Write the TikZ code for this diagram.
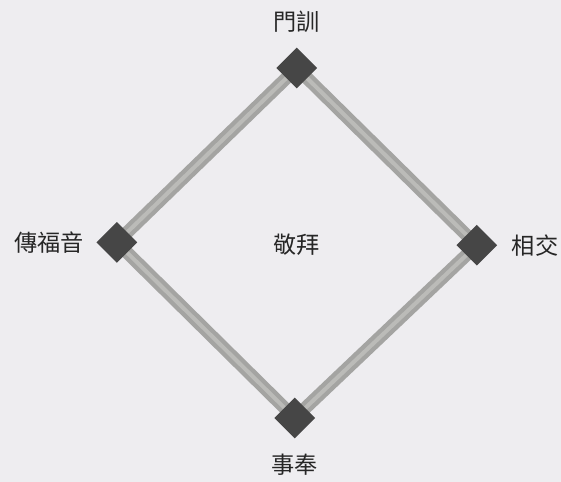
\documentclass[tikz,border=0pt]{standalone}
\usepackage{fontspec}
\newfontfamily\cjk{Noto Sans CJK TC}
\usetikzlibrary{positioning}
\definecolor{pagegray}{HTML}{EEEDF0}
\definecolor{bargray}{HTML}{A4A4A2}
\definecolor{barlight}{HTML}{BBBBB8}
\definecolor{cornergray}{HTML}{464646}
\definecolor{inkgray}{HTML}{262626}
\tikzset{
    corner/.style={fill=cornergray, minimum size=0.72cm, inner sep=0pt, rotate=45},
    bar/.style={line width=0.32cm, bargray},
    barcore/.style={line width=0.1cm, barlight},
    word/.style={inner sep=0pt, text=inkgray, font=\cjk\fontsize{16.5}{19}\selectfont}
}
\begin{document}
\begin{tikzpicture}
                \fill[pagegray](0, 0) rectangle (14.025, 12.05);

                %%corners of the diamond
                \coordinate (top) at (7.42, 10.35);
                \coordinate (left) at (2.92, 5.99);
                \coordinate (right) at (11.92, 5.92);
                \coordinate (bottom) at (7.37, 1.6);

                %%bars
                \draw[bar](top) to (left);
                \draw[bar](top) to (right);
                \draw[bar](bottom) to (left);
                \draw[bar](bottom) to (right);
                    \draw[barcore](top) to (left);
                    \draw[barcore](top) to (right);
                    \draw[barcore](bottom) to (left);
                    \draw[barcore](bottom) to (right);

                %%corner squares
                \node[corner] (train) at (top){};
                \node[corner] (gospel) at (left){};
                \node[corner] (fellow) at (right){};
                \node[corner] (serve) at (bottom){};

                %%labels
                \node[word, above=0.36cm of train.center, yshift=0.51cm] (trainlbl){門訓};
                \node[word, left=0.3cm of gospel.center, xshift=-0.51cm] (gospellbl){傳福音};
                \node[word, right=0.36cm of fellow.center, xshift=0.51cm] (fellowlbl){相交};
                \node[word, below=0.38cm of serve.center, yshift=-0.51cm] (servelbl){事奉};
                \node[word] (worship) at (7.42, 5.92){敬拜};
\end{tikzpicture}
\end{document}
